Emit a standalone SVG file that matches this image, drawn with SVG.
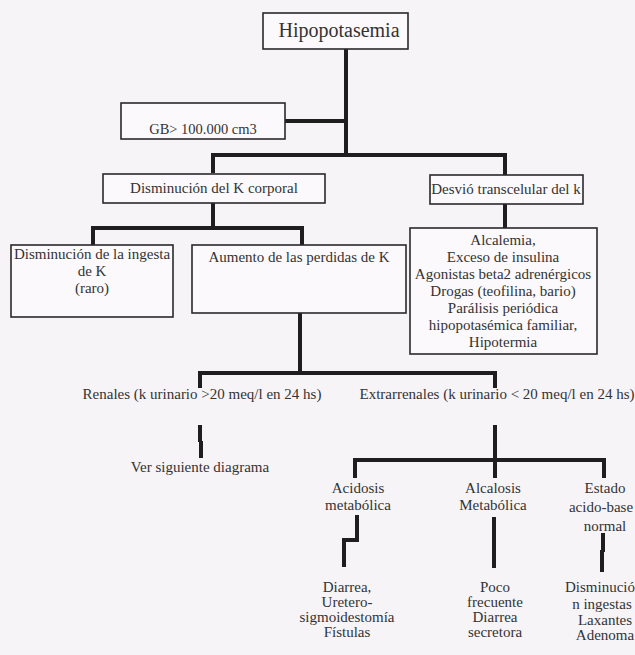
<svg xmlns="http://www.w3.org/2000/svg" width="635" height="655" viewBox="0 0 635 655">
<style>
.bx{fill:#fbf9fb;stroke:#2a2a2a;stroke-width:1.6}
.t{font-family:'Liberation Serif','DejaVu Serif',serif;font-size:15px;fill:#333;text-anchor:middle}
.c{fill:none;stroke:#1e1e1e;stroke-width:4;stroke-linecap:butt;stroke-linejoin:miter}
</style>
<rect x="0" y="0" width="635" height="655" fill="#f7f4f8"/>
<g id="connectors">
<path class="c" d="M346,49 V155 M285,121 H346 M211,155 H507 M213,155 V173 M505,155 V175"/>
<path class="c" d="M213,203 V228 M91,228 H304 M93,228 V245 M302,228 V245 M505,204 V228"/>
<path class="c" d="M300,313 V373 M198,373 H497 M200,373 V388 M495,373 V388"/>
<path class="c" d="M200,425 V442 M201,441 V458"/>
<path class="c" d="M495,425 V478 M353,460 H606 M355,460 V478 M604,460 V478"/>
<path class="c" d="M357,515 V540 H342 M344,538 V567 M494,517 V568 M603,533 V552 M602,550 V572"/>
</g>
<g id="hipopotasemia">
<rect class="bx" x="263" y="13" width="145" height="36"/>
<text class="t" x="339" y="37" style="font-size:20px">Hipopotasemia</text>
</g>
<g id="gb">
<rect class="bx" x="121" y="103" width="164" height="36"/>
<text class="t" x="203" y="134" style="font-size:14.5px">GB&gt; 100.000 cm3</text>
</g>
<g id="disminucion-k">
<rect class="bx" x="103" y="174" width="222" height="29"/>
<text class="t" x="214" y="193">Disminución del K corporal</text>
</g>
<g id="desvio">
<rect class="bx" x="430" y="175" width="153" height="29"/>
<text class="t" x="506" y="194">Desvió transcelular del k</text>
</g>
<g id="ingesta">
<rect class="bx" x="11" y="245" width="162" height="72"/>
<text class="t" x="92" y="259">Disminución de la ingesta</text>
<text class="t" x="92" y="276">de K</text>
<text class="t" x="92" y="293">(raro)</text>
</g>
<g id="aumento">
<rect class="bx" x="192" y="245" width="214" height="68"/>
<text class="t" x="299" y="262">Aumento de las perdidas de K</text>
</g>
<g id="alcalemia">
<rect class="bx" x="410" y="228" width="187" height="126"/>
<text class="t" x="503" y="245">Alcalemia,</text>
<text class="t" x="503" y="262">Exceso de insulina</text>
<text class="t" x="503" y="279">Agonistas beta2 adrenérgicos</text>
<text class="t" x="503" y="296">Drogas (teofilina, bario)</text>
<text class="t" x="503" y="313">Parálisis periódica</text>
<text class="t" x="503" y="330">hipopotasémica familiar,</text>
<text class="t" x="503" y="347">Hipotermia</text>
</g>
<g id="renales">
<text class="t" x="202" y="399">Renales  (k urinario &gt;20 meq/l en 24 hs)</text>
</g>
<g id="extrarrenales">
<text class="t" x="497" y="399">Extrarrenales (k urinario &lt; 20 meq/l en 24 hs)</text>
</g>
<g id="ver">
<text class="t" x="200" y="472">Ver siguiente diagrama</text>
</g>
<g id="acidosis">
<text class="t" x="358" y="493">Acidosis</text>
<text class="t" x="358" y="510">metabólica</text>
</g>
<g id="alcalosis">
<text class="t" x="493" y="493">Alcalosis</text>
<text class="t" x="493" y="510">Metabólica</text>
</g>
<g id="estado">
<text class="t" x="605" y="493">Estado</text>
<text class="t" x="601" y="512">acido-base</text>
<text class="t" x="605" y="531">normal</text>
</g>
<g id="diarrea">
<text class="t" x="347" y="592">Diarrea,</text>
<text class="t" x="347" y="607">Uretero-</text>
<text class="t" x="347" y="622">sigmoidestomía</text>
<text class="t" x="347" y="637">Fístulas</text>
</g>
<g id="poco">
<text class="t" x="495" y="592">Poco</text>
<text class="t" x="495" y="607">frecuente</text>
<text class="t" x="495" y="622">Diarrea</text>
<text class="t" x="495" y="637">secretora</text>
</g>
<g id="disminucion-ingestas">
<text class="t" x="600" y="592">Disminució</text>
<text class="t" x="602" y="609">n ingestas</text>
<text class="t" x="605" y="625">Laxantes</text>
<text class="t" x="605" y="640">Adenoma</text>
</g>
</svg>
